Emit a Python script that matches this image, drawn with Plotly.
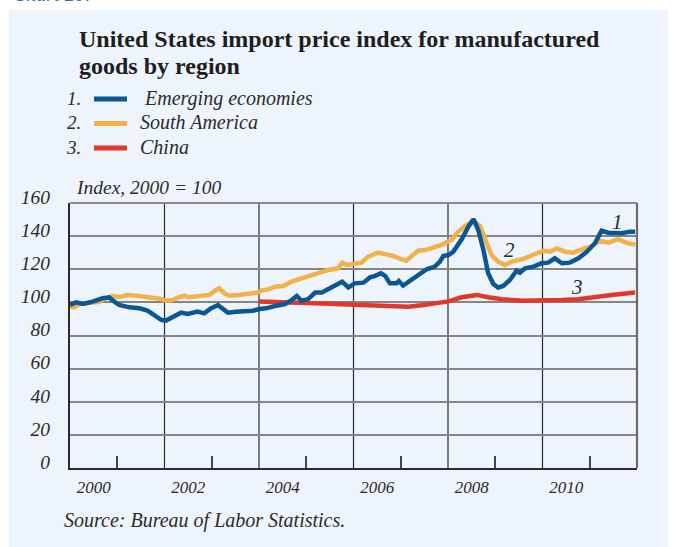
import plotly.graph_objects as go

# ---- data: index, 2000 = 100 (decimal years) ----
em_years = [2000.00, 2000.13, 2000.27, 2000.48, 2000.69, 2000.83, 2000.94, 2001.04, 2001.26, 2001.47,
            2001.64, 2001.78, 2001.93, 2002.03, 2002.17, 2002.35, 2002.49, 2002.70, 2002.84, 2002.98,
            2003.13, 2003.23, 2003.34, 2003.51, 2003.72, 2003.87, 2004.01, 2004.15, 2004.34, 2004.55,
            2004.69, 2004.80, 2004.90, 2005.04, 2005.19, 2005.33, 2005.43, 2005.61, 2005.76, 2005.89,
            2006.03, 2006.21, 2006.35, 2006.46, 2006.58, 2006.67, 2006.77, 2006.91, 2006.96, 2007.05,
            2007.20, 2007.37, 2007.55, 2007.72, 2007.83, 2007.90, 2008.01, 2008.11, 2008.29, 2008.43,
            2008.54, 2008.64, 2008.75, 2008.85, 2008.96, 2009.06, 2009.17, 2009.31, 2009.45, 2009.52,
            2009.63, 2009.81, 2009.98, 2010.12, 2010.26, 2010.41, 2010.58, 2010.76, 2010.94, 2011.11,
            2011.25, 2011.39, 2011.53, 2011.68, 2011.85, 2011.96]
em_values = [98.5, 100.0, 99.0, 100.4, 102.5, 103.0, 100.4, 98.4, 97.0, 96.4,
             95.0, 92.4, 89.4, 89.0, 91.4, 93.8, 93.0, 94.4, 93.4, 96.4,
             98.4, 96.4, 93.8, 94.4, 94.4, 95.0, 96.0, 96.4, 97.8, 99.0,
             101.4, 103.9, 101.0, 102.0, 105.9, 105.9, 107.5, 110.5, 112.5, 109.0,
             111.5, 111.9, 115.1, 116.0, 117.6, 116.0, 111.5, 111.5, 112.9, 110.1,
             112.9, 116.0, 120.0, 121.6, 124.6, 128.0, 128.6, 130.5, 138.1, 145.7,
             150.2, 143.7, 131.6, 117.6, 111.1, 109.0, 109.9, 113.5, 119.1, 117.9,
             120.6, 121.6, 123.6, 124.0, 126.6, 123.6, 124.0, 126.6, 130.6, 135.7,
             143.3, 142.1, 142.1, 141.7, 142.7, 142.7]

sa_years = [2000.00, 2000.09, 2000.20, 2000.41, 2000.62, 2000.76, 2000.90, 2001.04, 2001.12, 2001.22,
            2001.47, 2001.75, 2001.93, 2002.03, 2002.17, 2002.31, 2002.42, 2002.52, 2002.74, 2002.95,
            2003.09, 2003.16, 2003.27, 2003.37, 2003.58, 2003.83, 2003.97, 2004.04, 2004.20, 2004.34,
            2004.51, 2004.69, 2004.90, 2005.08, 2005.26, 2005.47, 2005.68, 2005.76, 2005.86, 2006.03,
            2006.17, 2006.31, 2006.52, 2006.70, 2006.84, 2007.02, 2007.12, 2007.23, 2007.37, 2007.51,
            2007.72, 2007.87, 2007.94, 2008.08, 2008.22, 2008.36, 2008.54, 2008.68, 2008.78, 2008.92,
            2009.06, 2009.21, 2009.35, 2009.45, 2009.63, 2009.84, 2010.02, 2010.16, 2010.30, 2010.48,
            2010.65, 2010.83, 2011.04, 2011.22, 2011.39, 2011.60, 2011.78, 2011.96]
sa_values = [97.4, 97.0, 99.0, 99.8, 100.4, 102.5, 103.9, 103.1, 103.9, 104.5,
             103.9, 103.1, 102.0, 101.0, 101.4, 103.1, 103.9, 103.1, 103.9, 104.5,
             107.5, 108.5, 105.4, 104.0, 104.5, 105.0, 105.9, 107.1, 107.9, 109.5,
             109.9, 112.5, 114.5, 116.0, 117.9, 119.6, 120.6, 124.0, 122.6, 123.2,
             124.0, 127.6, 130.0, 129.0, 128.0, 126.0, 125.2, 128.0, 131.2, 131.6,
             133.2, 134.7, 136.0, 137.7, 142.7, 146.1, 149.3, 146.1, 138.7, 128.6,
             124.6, 122.6, 124.6, 125.2, 126.6, 129.2, 131.2, 130.6, 132.6, 130.6,
             130.0, 132.0, 134.0, 137.3, 136.0, 138.1, 136.0, 134.7]

cn_years = [2003.99, 2004.34, 2004.76, 2005.19, 2005.61, 2006.03, 2006.46, 2006.88, 2007.16, 2007.44,
            2007.72, 2008.01, 2008.29, 2008.61, 2008.85, 2009.14, 2009.56, 2009.98, 2010.41, 2010.76,
            2011.11, 2011.46, 2011.96]
cn_values = [100.6, 100.1, 99.8, 99.4, 99.0, 98.4, 97.8, 97.4, 97.4, 98.2,
             99.4, 100.6, 103.1, 104.5, 103.1, 101.9, 101.0, 101.0, 101.4, 101.9,
             103.4, 104.5, 105.9]

series_names = ["Emerging economies", "South America", "China"]
series_colors = ["#0B5794", "#F1B24A", "#E2372C"]

year_labels = ["2000", "2002", "2004", "2006", "2008", "2010"]
label_pos = [2000.5, 2002.5, 2004.5, 2006.5, 2008.5, 2010.5]
grid_years = [2002, 2004, 2006, 2008, 2010]
odd_years = [2001, 2003, 2005, 2007, 2009, 2011]
y_ticks = [0, 20, 40, 60, 80, 100, 120, 140, 160]

# line-end labels: (text, year, value)
end_labels = [("1", 2011.58, 148.5), ("2", 2009.31, 131.5), ("3", 2010.72, 109.5)]

# ---- figure geometry (pixels) ----
W, H = 674, 547
L, R, T, B = 70, 637, 203, 468
PW, PH = R - L, B - T


def px(x):
    return (x - L) / PW


def py(y):
    return (B - y) / PH


SERIF = "Liberation Serif"
INK = "#2b2b2b"
BG = "#EDF4FB"

fig = go.Figure()

# China first, then South America, then Emerging economies on top
for xs, ys, c, name in [(cn_years, cn_values, series_colors[2], series_names[2]),
                        (sa_years, sa_values, series_colors[1], series_names[1]),
                        (em_years, em_values, series_colors[0], series_names[0])]:
    fig.add_trace(go.Scatter(x=xs, y=ys, mode="lines", name=name,
                             line=dict(color=c, width=4.5, shape="linear"),
                             showlegend=False, hoverinfo="skip"))

shapes = []
# panel background
shapes.append(dict(type="rect", xref="paper", yref="paper", x0=px(9), x1=px(668), y0=py(H + 5), y1=py(10),
                   fillcolor=BG, line=dict(width=0), layer="below"))
# vertical grid lines
for g in grid_years:
    shapes.append(dict(type="line", xref="x", yref="paper", x0=g, x1=g, y0=0, y1=1,
                       line=dict(color=INK, width=1.2), layer="below"))
# top and right frame
shapes.append(dict(type="line", xref="paper", yref="paper", x0=0, x1=1, y0=1, y1=1,
                   line=dict(color="#8a8a8a", width=2)))
shapes.append(dict(type="line", xref="paper", yref="paper", x0=1, x1=1, y0=0, y1=1,
                   line=dict(color="#6a6a6a", width=2.2)))

annotations = []
# chart number heading, running off the top of the page
annotations.append(dict(text="Chart 20:", xref="paper", yref="paper", x=px(11), y=py(7),
                        xanchor="left", yanchor="bottom", showarrow=False,
                        font=dict(family=SERIF, size=20, color="#2A6DB0", style="italic")))
# title (two lines)
for txt, yc in [("United States import price index for manufactured", 39),
                ("goods by region", 66)]:
    annotations.append(dict(text=txt, xref="paper", yref="paper", x=px(77), y=py(yc),
                            xanchor="left", yanchor="middle", showarrow=False,
                            font=dict(family=SERIF, size=24, color="#1e1e1e", weight="bold")))
# legend
leg_rows = [98, 122.5, 147]
leg_text_x = [142, 138, 138]
for i, (name, c, yc) in enumerate(zip(series_names, series_colors, leg_rows)):
    annotations.append(dict(text=f"{i + 1}.", xref="paper", yref="paper", x=px(83), y=py(yc),
                            xanchor="right", yanchor="middle", showarrow=False,
                            font=dict(family=SERIF, size=19, color=INK, style="italic")))
    annotations.append(dict(text=name, xref="paper", yref="paper", x=px(leg_text_x[i]), y=py(yc),
                            xanchor="left", yanchor="middle", showarrow=False,
                            font=dict(family=SERIF, size=20, color=INK, style="italic")))
    shapes.append(dict(type="line", xref="paper", yref="paper", x0=px(94), x1=px(127), y0=py(yc + 1), y1=py(yc + 1),
                       line=dict(color=c, width=5)))
# axis unit
annotations.append(dict(text="Index, 2000 = 100", xref="paper", yref="paper", x=px(74), y=py(187),
                        xanchor="left", yanchor="middle", showarrow=False,
                        font=dict(family=SERIF, size=19.5, color=INK, style="italic")))
# series number labels
for txt, xv, yv in end_labels:
    annotations.append(dict(text=txt, x=xv, y=yv, xref="x", yref="y", showarrow=False,
                            xanchor="center", yanchor="middle",
                            font=dict(family=SERIF, size=21, color=INK, style="italic")))
# source
annotations.append(dict(text="Source: Bureau of Labor Statistics.", xref="paper", yref="paper",
                        x=px(62), y=py(520), xanchor="left", yanchor="middle", showarrow=False,
                        font=dict(family=SERIF, size=20, color=INK, style="italic")))

fig.update_layout(
    width=W, height=H, autosize=False,
    margin=dict(l=L, r=W - R, t=T, b=H - B, pad=0),
    paper_bgcolor="white", plot_bgcolor="rgba(0,0,0,0)",
    shapes=shapes, annotations=annotations, showlegend=False,
    xaxis=dict(range=[2000, 2012], tickmode="array", tickvals=label_pos, ticktext=year_labels,
               showgrid=False, zeroline=False, ticks="", ticklabelstandoff=3,
               showline=True, linecolor=INK, linewidth=2,
               tickfont=dict(family=SERIF, size=17, color=INK, style="italic"),
               minor=dict(tickmode="array", tickvals=odd_years, ticks="inside", ticklen=12,
                          tickcolor="#444444", tickwidth=1.5, showgrid=False)),
    yaxis=dict(range=[0, 160], tickmode="array", tickvals=y_ticks,
               showgrid=True, gridcolor="#858585", gridwidth=1.6, zeroline=False,
               showline=True, linecolor=INK, linewidth=2, ticks="",
               ticklabelstandoff=14, ticklabelshift=-6,
               tickfont=dict(family=SERIF, size=19.5, color=INK, style="italic")),
)

fig.write_html("out.html")
